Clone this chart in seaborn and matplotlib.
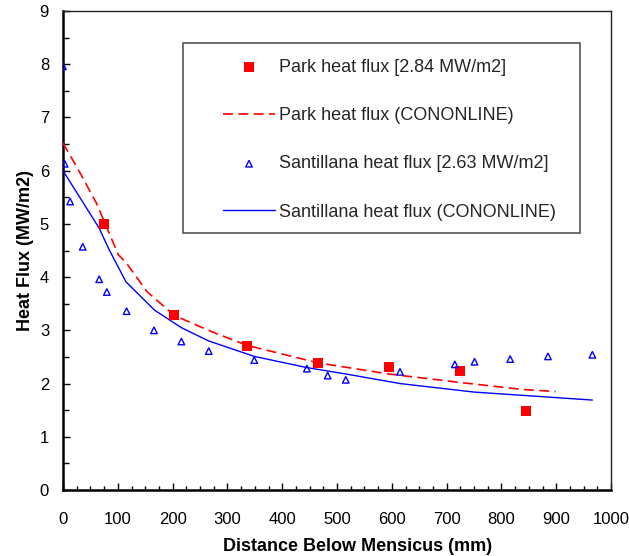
import numpy as np
import pandas as pd
import matplotlib
matplotlib.use("Agg")
import matplotlib.pyplot as plt
from matplotlib.patches import Rectangle
from matplotlib.ticker import MultipleLocator
import seaborn as sns

# Data
park_x = [75, 203, 335, 465, 594, 725, 845]
park_y = [5.00, 3.28, 2.71, 2.39, 2.31, 2.24, 1.49]

park_line_x = [0, 30, 61, 101, 116, 153, 203, 270, 335, 465, 594, 725, 838, 899]
park_line_y = [6.52, 5.98, 5.39, 4.42, 4.26, 3.73, 3.28, 2.98, 2.72, 2.39, 2.18, 2.02, 1.89, 1.85]

sant_x = [0, 3, 13, 36, 66, 80, 116, 166, 216, 266, 349, 445, 483, 516, 615, 715, 751, 816, 885, 966]
sant_y = [7.96, 6.13, 5.42, 4.57, 3.96, 3.72, 3.36, 3.00, 2.79, 2.61, 2.44, 2.28, 2.15, 2.07, 2.22, 2.36, 2.41, 2.46, 2.51, 2.54]

sant_line_x = [0, 66, 83, 115, 167, 216, 266, 349, 445, 516, 615, 750, 966]
sant_line_y = [6.00, 4.92, 4.54, 3.91, 3.38, 3.05, 2.80, 2.51, 2.30, 2.18, 2.00, 1.84, 1.69]

labels = ["Park heat flux [2.84 MW/m2]",
          "Park heat flux (CONONLINE)",
          "Santillana heat flux [2.63 MW/m2]",
          "Santillana heat flux (CONONLINE)"]

sns.set_theme(style="white")
plt.rcParams['font.family'] = ['Liberation Sans', 'DejaVu Sans']

fig = plt.figure(figsize=(6.29, 5.56), dpi=100)
ax = fig.add_axes([63/629, 1-490/556, 548/629, 479/556])

sns.scatterplot(x=park_x, y=park_y, ax=ax, marker='s', s=60, color='#ff0000',
                edgecolor='#ff0000', linewidth=0, label=labels[0], zorder=4)
sns.lineplot(x=park_line_x, y=park_line_y, ax=ax, sort=False, color='#ff0000',
             linewidth=1.2, linestyle=(0, (6, 3.2)), label=labels[1], zorder=3)
sns.scatterplot(x=sant_x, y=sant_y, ax=ax, marker='^', s=22, facecolor='none',
                edgecolor='#0000ff', linewidth=1.0, label=labels[2], zorder=4)
sns.lineplot(x=sant_line_x, y=sant_line_y, ax=ax, sort=False, color='#0000ff',
             linewidth=1.0, label=labels[3], zorder=3)

ax.set_xlim(0, 1000)
ax.set_ylim(0, 9)
ax.xaxis.set_major_locator(MultipleLocator(100))
ax.xaxis.set_minor_locator(MultipleLocator(25))
ax.yaxis.set_major_locator(MultipleLocator(1))
ax.yaxis.set_minor_locator(MultipleLocator(0.5))
ax.tick_params(axis='both', which='both', direction='in', color='black', labelsize=12,
               labelcolor='black')
ax.tick_params(axis='x', which='major', length=5, width=1, pad=16, bottom=True, top=False)
ax.tick_params(axis='x', which='minor', length=3, width=1, bottom=True, top=False)
ax.tick_params(axis='y', which='major', length=5, width=1, pad=10, left=True, right=False)
ax.tick_params(axis='y', which='minor', length=4, width=1, left=True, right=False)

for s in ['left', 'bottom']:
    ax.spines[s].set_color('black')
    ax.spines[s].set_linewidth(1.8)
for s in ['top', 'right']:
    ax.spines[s].set_color('#222222')
    ax.spines[s].set_linewidth(1.0)

ax.set_xlabel("Distance Below Mensicus (mm)", fontsize=13, fontweight='bold', labelpad=8, color='black')
ax.xaxis.label.set_x((358-63)/548)
ax.set_ylabel("Heat Flux (MW/m2)", fontsize=13, fontweight='bold', labelpad=4, color='black')

# legend frame
ax.add_patch(Rectangle(((183-63)/548, (490-233)/479), (580-183)/548, 190/479,
                       transform=ax.transAxes, fill=False, edgecolor='#555555',
                       linewidth=1.2, zorder=5))
leg = ax.legend(loc='upper left', bbox_to_anchor=((223-63)/548, (490-59)/479),
                frameon=False, fontsize=13, labelspacing=1.73, handlelength=2.88,
                handletextpad=0.22, borderpad=0, borderaxespad=0, markerscale=1.0)

fig.savefig("out.png", dpi=100)
